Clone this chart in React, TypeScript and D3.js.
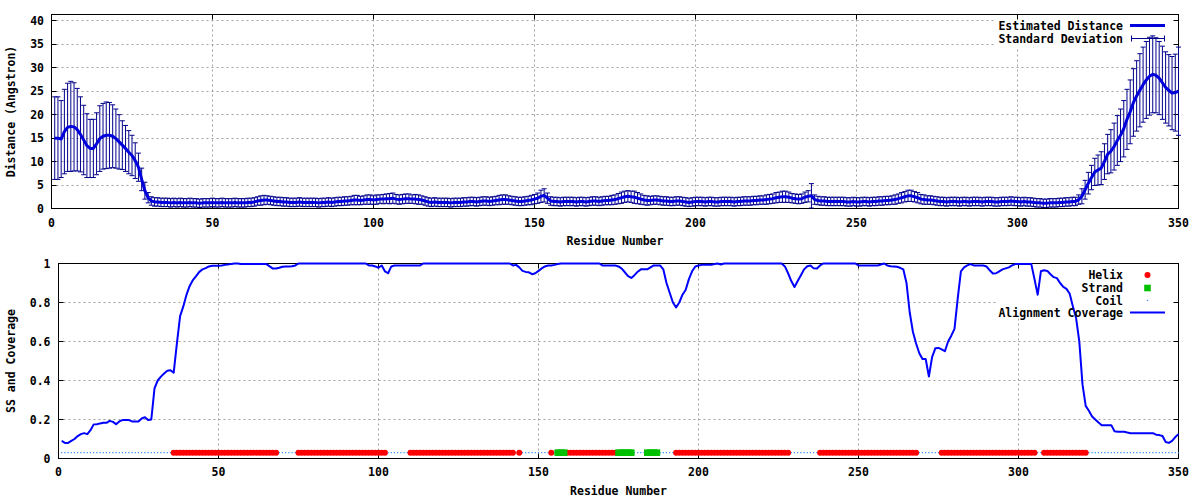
import React from 'react';
import * as d3 from 'd3';

// ---------- DATA (residue i+1 for index i) ----------
const distance = [
  15.0,15.0,14.8,16.4,17.3,17.5,17.4,16.8,15.8,14.6,
  13.4,12.8,12.8,13.8,14.9,15.4,15.6,15.6,15.4,14.9,
  14.2,13.5,12.8,12.0,11.3,10.2,8.8,6.2,3.8,2.3,
  1.6,1.4,1.4,1.3,1.3,1.3,1.2,1.3,1.2,1.3,
  1.2,1.2,1.3,1.2,1.2,1.1,1.2,1.2,1.2,1.3,
  1.2,1.2,1.3,1.2,1.2,1.2,1.3,1.2,1.2,1.2,
  1.3,1.3,1.4,1.6,1.7,1.8,1.8,1.7,1.6,1.5,
  1.5,1.4,1.4,1.3,1.3,1.3,1.4,1.3,1.3,1.3,
  1.3,1.3,1.2,1.3,1.3,1.4,1.3,1.4,1.5,1.5,
  1.6,1.6,1.7,1.8,1.8,1.7,1.8,1.9,1.9,1.8,
  1.9,2.0,2.0,2.1,2.1,2.2,2.0,1.9,2.0,2.1,
  2.1,2.0,2.0,1.9,1.8,1.6,1.4,1.3,1.4,1.3,
  1.3,1.3,1.3,1.2,1.3,1.3,1.3,1.4,1.4,1.5,
  1.5,1.4,1.5,1.6,1.6,1.5,1.6,1.7,1.8,1.9,
  1.9,1.8,1.7,1.6,1.5,1.5,1.6,1.7,1.8,2.0,
  2.2,2.6,2.8,2.2,1.6,1.5,1.5,1.4,1.5,1.5,
  1.5,1.5,1.4,1.5,1.5,1.4,1.5,1.6,1.6,1.5,
  1.6,1.7,1.7,1.8,1.9,2.1,2.3,2.5,2.6,2.5,
  2.4,2.2,2.0,1.8,1.7,1.7,1.8,1.8,1.7,1.6,
  1.6,1.5,1.5,1.6,1.6,1.5,1.4,1.3,1.4,1.5,
  1.5,1.5,1.4,1.5,1.5,1.4,1.4,1.5,1.5,1.5,
  1.5,1.4,1.5,1.5,1.6,1.6,1.6,1.7,1.7,1.8,
  1.8,1.9,2.0,2.1,2.3,2.4,2.5,2.5,2.4,2.2,
  2.1,2.0,2.1,2.4,2.6,2.7,1.9,1.7,1.6,1.6,
  1.5,1.5,1.5,1.5,1.5,1.5,1.4,1.4,1.5,1.4,
  1.4,1.5,1.5,1.4,1.5,1.5,1.6,1.6,1.7,1.7,
  1.8,1.9,2.1,2.3,2.5,2.7,2.7,2.5,2.3,2.0,
  1.9,1.8,1.8,1.7,1.6,1.5,1.5,1.4,1.5,1.5,
  1.5,1.4,1.5,1.5,1.4,1.5,1.5,1.5,1.4,1.5,
  1.5,1.5,1.4,1.4,1.5,1.5,1.5,1.6,1.5,1.5,
  1.4,1.5,1.4,1.4,1.3,1.2,1.2,1.1,1.1,1.2,
  1.2,1.2,1.3,1.3,1.4,1.4,1.5,1.5,1.9,2.6,
  4.0,5.4,6.6,7.8,8.2,8.6,10.0,11.6,12.2,13.2,
  14.5,15.6,17.0,19.0,20.6,22.6,24.0,25.2,26.4,27.4,
  28.2,28.6,28.4,27.8,26.8,25.8,25.2,24.6,24.7,25.0
];

const stdDev = [
  8.8,8.8,8.2,9.0,9.4,9.6,9.4,8.8,8.0,7.4,
  6.8,6.2,6.2,6.6,7.0,7.0,7.1,7.0,6.7,6.3,
  5.8,5.2,4.9,4.6,4.3,3.8,3.0,2.4,1.8,1.1,
  0.9,0.9,0.9,0.9,0.9,0.9,0.9,0.9,0.9,0.9,
  0.9,0.9,0.9,0.9,0.9,0.9,0.9,0.9,0.9,0.9,
  0.9,0.9,0.9,0.9,0.9,0.9,0.9,0.9,0.9,0.9,
  0.9,0.9,0.9,0.9,1.0,1.0,0.9,0.9,0.9,0.9,
  0.9,0.9,0.9,0.9,0.9,0.9,0.9,0.9,0.9,0.9,
  0.9,0.9,0.9,0.9,0.9,0.9,0.9,0.9,0.9,0.9,
  0.9,0.9,0.9,1.0,1.0,0.9,0.9,1.0,1.0,0.9,
  1.0,0.9,1.0,1.0,1.1,1.1,1.0,1.0,1.0,1.0,
  1.0,0.9,1.0,1.0,0.9,0.9,0.9,0.9,0.9,0.9,
  0.9,0.9,0.9,0.9,0.9,0.9,0.9,0.9,0.9,0.9,
  0.9,0.9,0.9,0.9,0.9,0.9,0.9,0.9,1.0,1.0,
  1.0,0.9,0.9,0.9,0.9,0.9,0.9,0.9,1.0,1.0,
  1.1,1.3,1.4,1.1,0.9,0.9,0.9,0.9,0.9,0.9,
  0.9,0.9,0.9,0.9,0.9,0.9,0.9,0.9,0.9,0.9,
  0.9,0.9,0.9,1.0,1.0,1.1,1.2,1.2,1.2,1.2,
  1.3,1.2,1.1,1.0,1.0,0.9,0.9,0.9,0.9,0.9,
  0.9,0.9,0.9,0.9,0.9,0.9,0.9,0.9,0.9,0.9,
  0.9,0.9,0.9,0.9,0.9,0.9,0.9,0.9,0.9,0.9,
  0.9,0.9,0.9,0.9,0.9,0.9,0.9,0.9,0.9,0.9,
  0.9,1.0,1.0,1.0,1.1,1.1,1.2,1.2,1.1,1.0,
  1.0,1.0,1.0,1.1,1.2,2.6,1.0,0.9,0.9,0.9,
  0.9,0.9,0.9,0.9,0.9,0.9,0.9,0.9,0.9,0.9,
  0.9,0.9,0.9,0.9,0.9,0.9,0.9,0.9,0.9,0.9,
  0.9,1.0,1.0,1.1,1.1,1.2,1.2,1.1,1.1,1.0,
  1.0,0.9,0.9,0.9,0.9,0.9,0.9,0.9,0.9,0.9,
  0.9,0.9,0.9,0.9,0.9,0.9,0.9,0.9,0.9,0.9,
  0.9,0.9,0.9,0.9,0.9,0.9,0.9,0.9,0.9,0.9,
  0.9,0.9,0.9,0.9,0.9,0.9,0.9,0.9,0.9,0.9,
  0.9,0.9,0.9,0.9,0.9,0.9,0.9,0.9,1.0,1.6,
  2.0,2.3,2.6,2.9,3.2,3.5,3.8,4.2,4.6,5.0,
  5.3,5.6,6.0,6.4,6.8,7.2,7.5,7.8,8.0,8.2,
  8.3,8.2,8.0,7.8,7.8,7.6,7.6,7.8,8.2,9.4
];

const coverage = [
  0.09,0.08,0.08,0.09,0.10,0.115,0.125,0.13,0.125,0.145,
  0.175,0.176,0.18,0.183,0.183,0.193,0.188,0.176,0.19,0.197,
  0.197,0.197,0.19,0.19,0.19,0.205,0.212,0.197,0.2,0.36,
  0.40,0.42,0.436,0.45,0.453,0.44,0.59,0.73,0.78,0.84,
  0.885,0.915,0.935,0.957,0.97,0.976,0.985,0.988,0.988,0.988,
  0.99,0.993,0.995,0.998,1,1,0.997,0.997,0.997,0.997,
  0.997,0.997,0.997,0.997,0.997,0.985,0.974,0.974,0.978,0.983,
  0.985,0.985,0.986,0.99,1,1,1,1,1,1,
  1,1,1,1,1,1,1,1,1,1,
  1,1,1,1,1,1,0.99,0.99,0.985,0.978,
  0.99,0.96,0.95,0.985,0.99,0.99,0.99,0.99,0.99,0.99,
  0.99,0.99,0.99,1,1,1,1,1,1,1,
  1,1,1,1,1,1,1,1,1,1,
  1,1,1,1,1,1,1,1,1,1,
  1,0.99,0.993,0.98,0.962,0.957,0.955,0.945,0.95,0.962,
  0.975,0.985,0.99,0.99,0.993,0.997,1,1,1,1,
  1,1,1,1,1,1,1,1,1,0.99,
  0.99,0.99,0.99,0.99,0.985,0.974,0.955,0.935,0.926,0.94,
  0.958,0.97,0.97,0.97,0.98,0.99,0.99,0.99,0.97,0.9,
  0.85,0.8,0.775,0.8,0.84,0.865,0.92,0.96,0.985,0.99,
  0.993,0.993,0.993,0.993,0.997,1,0.995,1,1,1,
  1,1,1,1,1,1,1,1,1,1,
  1,1,1,1,1,1,0.985,0.95,0.91,0.88,
  0.91,0.94,0.97,0.986,0.99,0.975,0.974,0.99,1,1,
  1,1,1,1,1,1,1,1,1,0.99,
  0.99,0.99,0.99,0.99,0.99,0.99,0.995,1,0.99,0.986,
  0.985,0.983,0.978,0.97,0.9,0.75,0.65,0.59,0.54,0.51,
  0.51,0.42,0.52,0.565,0.567,0.56,0.55,0.6,0.63,0.665,
  0.82,0.96,0.98,0.99,0.997,0.99,0.99,0.99,0.99,0.985,
  0.965,0.949,0.95,0.96,0.97,0.975,0.98,0.99,0.997,0.997,
  0.997,0.997,0.997,0.997,0.92,0.84,0.96,0.965,0.962,0.945,
  0.93,0.925,0.9,0.88,0.87,0.845,0.78,0.72,0.6,0.38,
  0.27,0.245,0.215,0.2,0.185,0.171,0.171,0.171,0.171,0.14,
  0.137,0.137,0.137,0.133,0.13,0.13,0.13,0.13,0.13,0.13,
  0.13,0.13,0.122,0.12,0.115,0.085,0.08,0.09,0.11,0.125
];

// secondary structure segments [first residue, last residue]
const helixSegments: [number, number][] = [
  [36, 68], [75, 102], [110, 142], [144, 144], [154, 154], [159, 174],
  [193, 228], [238, 268], [276, 305], [308, 321]
];
const strandSegments: [number, number][] = [[156, 158], [175, 179], [184, 187]];
const ssLevel = 0.03;

const xTicks = [0, 50, 100, 150, 200, 250, 300, 350];
const topYTicks = [0, 5, 10, 15, 20, 25, 30, 35, 40];
const bottomYTicks = [0, 0.2, 0.4, 0.6, 0.8, 1];
const bottomYTickLabels = ['0', '0.2', '0.4', '0.6', '0.8', '1'];

const FONT = "'DejaVu Sans Mono', 'Liberation Mono', monospace";
const GRID = '#a0a0a0';

const px = (v: number) => Math.round(v - 0.5) + 0.5;

export default function App() {
  const n = distance.length;
  const xT = d3.scaleLinear().domain([0, 350]).range([51.5, 1178.5]);
  const yT = d3.scaleLinear().domain([0, 41.35]).range([208.5, 14.5]);
  const xB = d3.scaleLinear().domain([0, 350]).range([58.5, 1178.5]);
  const yB = d3.scaleLinear().domain([0, 1]).range([458.5, 263.5]);

  const residues = distance.map((_, i) => i + 1);

  // error bars path
  let errPath = '';
  residues.forEach((r, i) => {
    const x = xT(r);
    const y1 = yT(distance[i] + stdDev[i]);
    const y2 = yT(Math.max(distance[i] - stdDev[i], 0));
    errPath += `M${x},${y1}V${y2}M${x - 2.5},${y1}H${x + 2.5}M${x - 2.5},${y2}H${x + 2.5}`;
  });

  const distLine = d3.line<number>().x((_, i) => xT(i + 1)).y((d) => yT(d))(distance) || '';
  const covLine = d3.line<number>().x((_, i) => xB(i + 1)).y((d) => yB(d))(coverage) || '';

  const inSeg = (r: number, segs: [number, number][]) => segs.some(([a, b]) => r >= a && r <= b);
  const helixRes = residues.filter((r) => inSeg(r, helixSegments));
  const strandRes = residues.filter((r) => inSeg(r, strandSegments));
  const coilRes = residues.filter((r) => !inSeg(r, helixSegments) && !inSeg(r, strandSegments));

  const renderFrame = (
    xs: d3.ScaleLinear<number, number>,
    ys: d3.ScaleLinear<number, number>,
    yTicks: number[],
    yLabels: string[],
    yLabelX: number,
    xLabelY: number,
    titleY: number,
    yTitle: string,
    key: string
  ) => {
    const [l, r] = xs.range();
    const [b, t] = ys.range();
    const L = px(l), R = px(r), B = px(b), T = px(t);
    return (
      <g key={key}>
        {/* grid */}
        {xTicks.filter((v) => v > 0 && v < 350).map((v) => (
          <line key={'gx' + v} x1={px(xs(v))} x2={px(xs(v))} y1={T} y2={B} stroke={GRID} strokeWidth={1} strokeDasharray="2,3" />
        ))}
        {yTicks.filter((v) => v > ys.domain()[0] && v < ys.domain()[1]).map((v) => (
          <line key={'gy' + v} x1={L} x2={R} y1={px(ys(v))} y2={px(ys(v))} stroke={GRID} strokeWidth={1} strokeDasharray="2,3" />
        ))}
        {/* tick labels */}
        {xTicks.map((v) => (
          <text key={'xl' + v} x={xs(v)} y={xLabelY} textAnchor="middle" dominantBaseline="central" fontFamily={FONT} fontWeight="bold" fontSize={11.5}>{v}</text>
        ))}
        {yTicks.map((v, i) => (
          <text key={'yl' + v} x={yLabelX} y={ys(v)} textAnchor="end" dominantBaseline="central" fontFamily={FONT} fontWeight="bold" fontSize={11.5}>{yLabels[i]}</text>
        ))}
        <text x={(l + r) / 2} y={titleY} textAnchor="middle" dominantBaseline="central" fontFamily={FONT} fontWeight="bold" fontSize={11.5}>Residue Number</text>
        <text transform={`translate(11,${(t + b) / 2}) rotate(-90)`} textAnchor="middle" dominantBaseline="central" fontFamily={FONT} fontWeight="bold" fontSize={11.5}>{yTitle}</text>
      </g>
    );
  };

  const renderBorder = (
    xs: d3.ScaleLinear<number, number>,
    ys: d3.ScaleLinear<number, number>,
    yTicks: number[],
    key: string
  ) => {
    const [l, r] = xs.range();
    const [b, t] = ys.range();
    const L = px(l), R = px(r), B = px(b), T = px(t);
    let p = '';
    xTicks.forEach((v) => {
      const x = px(xs(v));
      p += `M${x},${B}V${B - 5}M${x},${T}V${T + 5}`;
    });
    yTicks.forEach((v) => {
      const y = px(ys(v));
      p += `M${L},${y}H${L + 5}M${R},${y}H${R - 5}`;
    });
    return (
      <g key={key}>
        <path d={p} stroke="#000" strokeWidth={1} fill="none" />
        <rect x={L} y={T} width={R - L} height={B - T} fill="none" stroke="#000" strokeWidth={1} />
      </g>
    );
  };

  return (
    <svg width={1200} height={500} style={{ position: 'absolute', left: 0, top: 0, background: '#fff' }}>
      <rect x={0} y={0} width={1200} height={500} fill="#fff" />

      {/* ---------- TOP PANEL ---------- */}
      {renderFrame(xT, yT, topYTicks, topYTicks.map(String), 44, 223, 241, 'Distance (Angstron)', 'ft')}
      <rect x={996} y={15} width={182} height={33} fill="#fff" />
      {renderBorder(xT, yT, topYTicks, 'bt')}
      <path d={errPath} stroke="#00008b" strokeWidth={1} fill="none" />
      <path d={distLine} stroke="#0000dd" strokeWidth={3} fill="none" strokeLinejoin="round" />

      {/* top legend */}
      <text x={1123} y={26} textAnchor="end" dominantBaseline="central" fontFamily={FONT} fontWeight="bold" fontSize={11.5}>Estimated Distance</text>
      <line x1={1130} x2={1165} y1={25.5} y2={25.5} stroke="#0000dd" strokeWidth={3} />
      <text x={1123} y={39} textAnchor="end" dominantBaseline="central" fontFamily={FONT} fontWeight="bold" fontSize={11.5}>Standard Deviation</text>
      <path d="M1131.5,38.5H1164.5M1131.5,35.5V41.5M1164.5,35.5V41.5" stroke="#00008b" strokeWidth={1} fill="none" />

      {/* ---------- BOTTOM PANEL ---------- */}
      {renderFrame(xB, yB, bottomYTicks, bottomYTickLabels, 50.5, 472, 491, 'SS and Coverage', 'fb')}
      <rect x={996} y={264} width={182} height={53} fill="#fff" />
      {renderBorder(xB, yB, bottomYTicks, 'bb')}

      {/* coil dots */}
      {coilRes.map((r) => (
        <rect key={'c' + r} x={xB(r) - 0.6} y={yB(ssLevel) - 0.6} width={1.2} height={1.2} fill="#2288ff" />
      ))}
      {/* helix */}
      {helixRes.map((r) => (
        <circle key={'h' + r} cx={xB(r)} cy={yB(ssLevel)} r={3} fill="#ff0000" />
      ))}
      {/* strand */}
      {strandRes.map((r) => (
        <rect key={'s' + r} x={xB(r) - 3.3} y={yB(ssLevel) - 3.3} width={6.6} height={6.6} fill="#00c000" />
      ))}
      <path d={covLine} stroke="#0000ff" strokeWidth={2} fill="none" strokeLinejoin="round" />

      {/* bottom legend */}
      <text x={1123} y={275} textAnchor="end" dominantBaseline="central" fontFamily={FONT} fontWeight="bold" fontSize={11.5}>Helix</text>
      <circle cx={1147.5} cy={275} r={3} fill="#ff0000" />
      <text x={1123} y={288} textAnchor="end" dominantBaseline="central" fontFamily={FONT} fontWeight="bold" fontSize={11.5}>Strand</text>
      <rect x={1144.2} y={284.7} width={6.6} height={6.6} fill="#00c000" />
      <text x={1123} y={300.5} textAnchor="end" dominantBaseline="central" fontFamily={FONT} fontWeight="bold" fontSize={11.5}>Coil</text>
      <rect x={1146.9} y={299.9} width={1.2} height={1.2} fill="#2288ff" />
      <text x={1123} y={313.3} textAnchor="end" dominantBaseline="central" fontFamily={FONT} fontWeight="bold" fontSize={11.5}>Alignment Coverage</text>
      <line x1={1130} x2={1165} y1={312.5} y2={312.5} stroke="#0000ff" strokeWidth={2} />
    </svg>
  );
}
